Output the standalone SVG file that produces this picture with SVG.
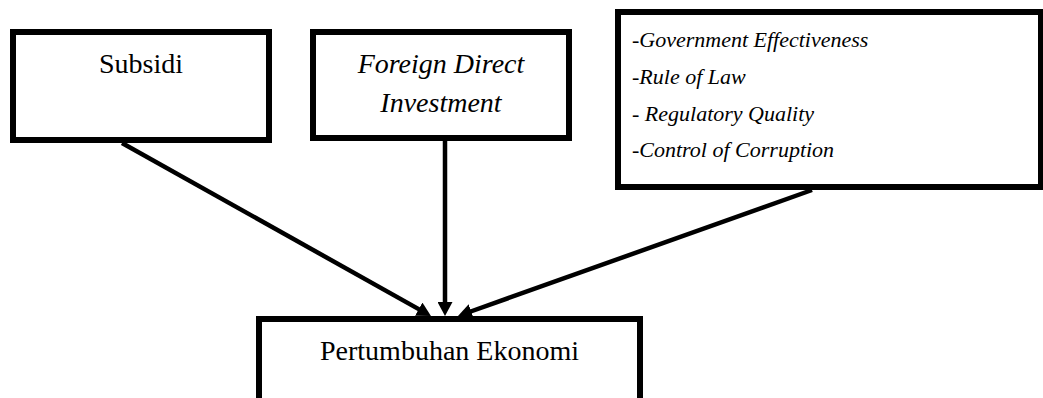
<svg xmlns="http://www.w3.org/2000/svg" width="1043" height="398" viewBox="0 0 1043 398">
<style>
.box{fill:#fff;stroke:#000;stroke-width:6}
.t{font-family:"Liberation Serif","Times New Roman",serif;font-size:28px;fill:#000}
.it{font-style:italic}
.s{font-family:"Liberation Serif","Times New Roman",serif;font-size:22px;font-style:italic;fill:#000}
.c{stroke:#000;stroke-width:4.5;fill:none}
</style>
<defs>
<marker id="ah" viewBox="0 0 14 15" refX="2" refY="7.5" markerWidth="14" markerHeight="15" markerUnits="userSpaceOnUse" orient="auto">
<path d="M0,0 L14,7.5 L0,15 z" fill="#000"/>
</marker>
</defs>
<rect width="1043" height="398" fill="#fff"/>
<g id="subsidi">
<rect class="box" x="13" y="32" width="256" height="108"/>
<text class="t" x="141" y="73" text-anchor="middle">Subsidi</text>
</g>
<g id="fdi">
<rect class="box" x="313" y="32" width="256" height="106"/>
<text class="t it" x="441" y="73" text-anchor="middle">Foreign Direct</text>
<text class="t it" x="441" y="112" text-anchor="middle">Investment</text>
</g>
<g id="governance">
<rect class="box" x="618" y="12" width="423" height="175"/>
<text class="s" x="632" y="47">-Government Effectiveness</text>
<text class="s" x="632" y="84">-Rule of Law</text>
<text class="s" x="632" y="121">- Regulatory Quality</text>
<text class="s" x="632" y="157">-Control of Corruption</text>
</g>
<g id="growth">
<rect class="box" x="259" y="319" width="381" height="84"/>
<text class="t" x="449.5" y="360" text-anchor="middle">Pertumbuhan Ekonomi</text>
</g>
<g id="connectors">
<line class="c" x1="122" y1="143" x2="420.5" y2="310.1" marker-end="url(#ah)"/>
<line class="c" x1="445" y1="141" x2="445" y2="304" marker-end="url(#ah)"/>
<line class="c" x1="812" y1="190" x2="469.3" y2="312" marker-end="url(#ah)"/>
</g>
</svg>
